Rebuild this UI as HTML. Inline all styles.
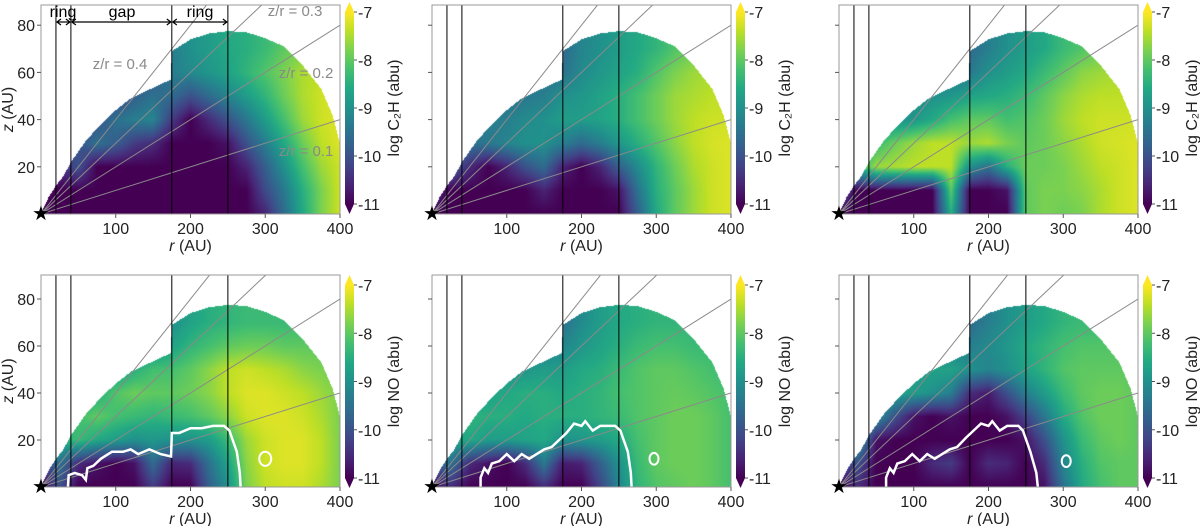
<!DOCTYPE html>
<html><head><meta charset="utf-8">
<style>
body{margin:0;background:#fff;width:1200px;height:526px;overflow:hidden;position:relative;font-family:"Liberation Sans","DejaVu Sans",sans-serif}
canvas{position:absolute}
svg{position:absolute;left:0;top:0}
</style></head>
<body>
<div id="cv"></div>
<svg id="s" width="1200" height="526"></svg>
<script>
// ---- data ----
const rGrid=[0,25,50,75,100,125,150,175,200,225,250,275,300,325,350,375,400];
const zGrid=[0,10,20,30,40,50,60,70,80];
const diskR=[0,10,20,30,40,60,80,100,120,140,160,174,175,200,225,250,275,300,325,350,375,390,400];
const diskZ=[0,7,12,16,22,31,38,44,49,52,55,57,69,74,76.5,77.5,77,74.5,71,63,53,42,30];
const ringLines=[20,40,175,250];
const slopes=[0.1,0.2,0.3,0.4];
const xTicks=[100,200,300,400];
const yTicks=[20,40,60,80];
const cbTicks=[-7,-8,-9,-10,-11];
const panelC2H1=[
[-11,-11,-11,-11,-11,-11,-11,-11,-11,-11,-11,-11,-10.6,-9.6,-8.6,-7.8,-7.3],
[-11,-11,-11,-11,-11,-11,-11,-11,-11,-11,-11,-11,-10.1,-9.4,-8.5,-7.8,-7.3],
[-11,-10.5,-10,-11,-11,-11,-11,-11,-11,-11,-11,-10.6,-9.8,-9,-8.2,-7.6,-7.3],
[-10.5,-10,-10,-9.5,-9.8,-10.3,-10.5,-11,-11,-11,-10.8,-10,-9.3,-8.6,-7.9,-7.4,-7.2],
[-10.5,-10.3,-10.2,-10,-9.5,-9.3,-9.2,-10.3,-11,-10.5,-10,-9.4,-8.8,-8.2,-7.6,-7.3,-7.2],
[-10.5,-10.4,-10.3,-10.2,-10.2,-9.8,-9.5,-9.6,-10,-9.6,-9.2,-8.8,-8.4,-7.9,-7.5,-7.3,-7.2],
[-10,-10,-10,-10,-10,-10,-10,-9.3,-9.1,-8.9,-8.7,-8.4,-8.1,-7.8,-7.5,-7.4,-7.3],
[-9.3,-9.3,-9.3,-9.3,-9.3,-9.3,-9.3,-9.3,-9,-8.8,-8.6,-8.5,-8.3,-8,-7.8,-7.6,-7.5],
[-9.3,-9.3,-9.3,-9.3,-9.3,-9.3,-9.3,-9.3,-9,-8.8,-8.6,-8.5,-8.3,-8,-7.8,-7.6,-7.5]];
const panelC2H2=[
[-11,-11,-11,-11,-11,-11,-11,-11,-11,-11,-11,-9.8,-8.6,-8,-7.6,-7.3,-7.2],
[-10.5,-11,-11,-11,-11,-11,-10.6,-11,-11,-11,-10.8,-9.5,-8.5,-8,-7.6,-7.3,-7.2],
[-10,-9.8,-10.5,-11,-10.6,-10,-9.6,-10.6,-11,-10.6,-9.8,-9.1,-8.4,-7.9,-7.5,-7.3,-7.2],
[-9.6,-9.6,-9.5,-9.4,-9.2,-9,-9,-9.3,-9.6,-9.3,-8.9,-8.5,-8.1,-7.7,-7.4,-7.25,-7.2],
[-9.5,-9.5,-9.4,-9.3,-9.3,-9.1,-9,-8.8,-8.8,-8.7,-8.5,-8.2,-7.9,-7.6,-7.4,-7.3,-7.3],
[-9.5,-9.5,-9.5,-9.5,-9.5,-9.4,-9.3,-9,-8.9,-8.7,-8.5,-8.2,-7.9,-7.6,-7.5,-7.4,-7.4],
[-9.5,-9.5,-9.5,-9.5,-9.5,-9.5,-9.5,-9.5,-9.1,-8.9,-8.7,-8.5,-8.1,-7.8,-7.6,-7.5,-7.5],
[-9.6,-9.6,-9.6,-9.6,-9.6,-9.6,-9.6,-9.6,-9.2,-9,-8.8,-8.6,-8.4,-8.1,-7.9,-7.8,-7.8],
[-9.6,-9.6,-9.6,-9.6,-9.6,-9.6,-9.6,-9.6,-9.2,-9,-8.8,-8.6,-8.4,-8.1,-7.9,-7.8,-7.8]];
const panelC2H3=[
[-11,-11,-11,-11,-11,-11,-8.5,-11,-11,-11,-8,-7.8,-7.9,-7.8,-7.5,-7.3,-7.2],
[-10,-11,-11,-11,-11,-11,-8,-11,-11,-10.8,-8,-7.8,-7.8,-7.7,-7.5,-7.3,-7.2],
[-8.5,-8.5,-7.6,-7.5,-7.4,-7.4,-7.4,-9,-9.5,-8.5,-7.9,-7.9,-7.8,-7.6,-7.4,-7.3,-7.2],
[-9,-8.8,-8.3,-7.9,-7.6,-7.4,-7.4,-7.6,-7.5,-7.8,-8,-7.9,-7.7,-7.5,-7.3,-7.25,-7.2],
[-9.2,-9.1,-9,-9,-8.9,-8.6,-8.2,-8,-8,-8.2,-8.1,-7.9,-7.6,-7.4,-7.3,-7.3,-7.3],
[-9.3,-9.3,-9.2,-9.1,-9.1,-9,-8.9,-8.7,-8.6,-8.5,-8.3,-8,-7.7,-7.5,-7.4,-7.4,-7.4],
[-9.4,-9.4,-9.4,-9.4,-9.4,-9.4,-9.4,-9.4,-9,-8.8,-8.6,-8.3,-8,-7.7,-7.6,-7.5,-7.5],
[-9.6,-9.6,-9.6,-9.6,-9.6,-9.6,-9.6,-9.6,-9.3,-9,-8.8,-8.6,-8.3,-8.1,-7.9,-7.8,-7.8],
[-9.6,-9.6,-9.6,-9.6,-9.6,-9.6,-9.6,-9.6,-9.3,-9,-8.8,-8.6,-8.3,-8.1,-7.9,-7.8,-7.8]];
const panelNO1=[
[-11,-10,-11,-11,-11,-11,-10.3,-11,-11,-9.8,-9,-7.8,-7.4,-7.3,-7.3,-7.5,-7.8],
[-10.5,-9.5,-10.5,-10.8,-11,-10.8,-9.6,-10.6,-10.5,-9.5,-8.7,-7.7,-7.3,-7.2,-7.2,-7.4,-7.8],
[-9,-8.5,-8.3,-8.6,-8.8,-9,-8.9,-9,-9,-8.8,-8.3,-7.6,-7.3,-7.2,-7.2,-7.4,-7.8],
[-8.8,-8.5,-8.2,-8,-8.2,-8.3,-8.4,-8.3,-8.2,-8,-7.7,-7.3,-7.2,-7.2,-7.3,-7.5,-7.8],
[-9,-8.9,-8.8,-8.5,-8.1,-7.9,-8,-8,-7.9,-7.7,-7.4,-7.2,-7.2,-7.3,-7.4,-7.6,-7.8],
[-9.2,-9.1,-9,-9,-8.8,-8.5,-8.2,-8.2,-8,-7.7,-7.4,-7.3,-7.4,-7.5,-7.7,-7.8,-7.9],
[-9.5,-9.5,-9.5,-9.5,-9.5,-9.2,-9,-8.7,-8.4,-8.2,-8,-7.9,-7.9,-8,-8,-8,-8],
[-9,-9,-9,-9,-9,-9,-9,-9,-8.7,-8.5,-8.4,-8.3,-8.3,-8.3,-8.3,-8.3,-8.3],
[-9,-9,-9,-9,-9,-9,-9,-9,-8.7,-8.5,-8.4,-8.3,-8.3,-8.3,-8.3,-8.3,-8.3]];
const panelNO2=[
[-11,-10.5,-11,-11,-11,-11,-10.5,-11,-11,-10.2,-9.2,-8.4,-8.1,-8,-7.9,-8,-8.2],
[-10,-9.5,-10.5,-10.8,-11,-10.5,-9.4,-10.7,-10.6,-9.8,-9,-8.3,-8,-7.9,-7.9,-8,-8.2],
[-9,-8.7,-8.6,-8.8,-8.8,-8.7,-8.6,-9,-8.9,-8.8,-8.6,-8.2,-8,-7.9,-7.9,-8,-8.2],
[-9,-8.7,-8.4,-8.5,-8.5,-8.6,-8.5,-8.5,-8.5,-8.4,-8.3,-8.1,-8,-7.9,-7.9,-8,-8.2],
[-9.2,-9.1,-9,-8.7,-8.6,-8.5,-8.5,-8.6,-8.5,-8.4,-8.2,-8.1,-8,-7.95,-8,-8.1,-8.2],
[-9.3,-9.3,-9.2,-9.2,-9,-8.9,-8.8,-8.8,-8.6,-8.5,-8.3,-8.1,-8,-8,-8.1,-8.2,-8.3],
[-9.3,-9.3,-9.3,-9.3,-9.3,-9.3,-9.3,-9.2,-8.9,-8.7,-8.5,-8.3,-8.2,-8.2,-8.3,-8.3,-8.3],
[-9.5,-9.5,-9.5,-9.5,-9.5,-9.5,-9.5,-9.5,-9.1,-8.8,-8.6,-8.5,-8.4,-8.4,-8.4,-8.4,-8.4],
[-9.5,-9.5,-9.5,-9.5,-9.5,-9.5,-9.5,-9.5,-9.1,-8.8,-8.6,-8.5,-8.4,-8.4,-8.4,-8.4,-8.4]];
const panelNO3=[
[-11,-10.5,-11,-11,-11,-11,-11,-11,-11,-11,-11,-10.8,-9.5,-8.6,-8.2,-8,-8],
[-10.5,-10,-11,-11,-11,-10.5,-10.3,-11,-10.5,-10.6,-11,-10.5,-9.2,-8.5,-8.1,-8,-8],
[-9.5,-8.8,-10.8,-11,-11,-11,-11,-11,-11,-11,-10.8,-10,-9,-8.3,-8,-7.9,-8],
[-9,-8.6,-9,-10,-10.8,-11,-10.8,-11,-11,-10.8,-10.2,-9.4,-8.6,-8.1,-7.9,-7.9,-8],
[-9,-8.9,-8.8,-8.7,-8.8,-9,-9.3,-10.5,-10.7,-10,-9.3,-8.8,-8.3,-8,-7.9,-7.9,-8],
[-9.2,-9.2,-9.1,-9,-8.8,-8.7,-8.7,-9,-9.2,-9,-8.7,-8.4,-8.1,-8,-8,-8,-8.1],
[-9.3,-9.3,-9.3,-9.3,-9.3,-9.3,-9.3,-9.3,-9.1,-8.9,-8.6,-8.4,-8.2,-8.1,-8.1,-8.1,-8.1],
[-9.6,-9.6,-9.6,-9.6,-9.6,-9.6,-9.6,-9.6,-9.3,-9,-8.8,-8.6,-8.4,-8.3,-8.3,-8.3,-8.3],
[-9.6,-9.6,-9.6,-9.6,-9.6,-9.6,-9.6,-9.6,-9.3,-9,-8.8,-8.6,-8.4,-8.3,-8.3,-8.3,-8.3]];
const contourNO1=[[36,0],[37,5],[45,6],[55,5],[60,3],[62,8],[70,9],[80,12],[95,15],[110,15],[120,16],[130,14],[145,16],[160,14],[174,13],[175,23],[185,23],[200,25],[215,25],[230,26],[245,26],[252,24],[262,15],[266,6],[267,0]];
const contourNO2=[[65,0],[65,4],[70,8],[75,6],[80,10],[90,11],[100,14],[110,11],[120,14],[130,12],[140,14],[150,16],[160,17],[170,20],[180,23],[190,27],[200,26],[205,28],[215,24],[225,26],[245,26],[252,24],[262,15],[266,6],[267,0]];
const contourNO3=[[63,0],[63,4],[68,8],[73,6],[78,10],[88,11],[98,14],[108,11],[118,14],[128,12],[138,14],[148,16],[158,17],[170,21],[180,24],[190,27],[200,26],[205,28],[215,24],[225,26],[240,26],[246,24],[256,15],[264,6],[266,0]];
const blobNO1=[300,12,8,3]; const blobNO2=[297,12,6,2.5]; const blobNO3=[304,11,6,2.5];

const viridis=['#440154','#482475','#414487','#355f8d','#2a788e','#21918c','#22a884','#44bf70','#7ad151','#bddf26','#fde725'];
const vr=viridis.map(h=>[parseInt(h.slice(1,3),16),parseInt(h.slice(3,5),16),parseInt(h.slice(5,7),16)]);
function cmap(v){let t=(v+11)/4;t=Math.max(0,Math.min(1,t))*10;const i=Math.min(9,Math.floor(t)),f=t-i;return vr[i].map((c,k)=>Math.round(c+(vr[i+1][k]-c)*f));}
function interp1(xs,ys,x){if(x<=xs[0])return ys[0];for(let i=1;i<xs.length;i++){if(x<=xs[i]){const f=(x-xs[i-1])/(xs[i]-xs[i-1]);return ys[i-1]+f*(ys[i]-ys[i-1]);}}return ys[ys.length-1];}
function sample(g,r,z){const ci=Math.min(15,Math.floor(r/25)),fr=Math.min(1,(r-rGrid[ci])/25);const ri=Math.min(7,Math.floor(z/10)),fz=Math.min(1,(z-zGrid[ri])/10);
const a=g[ri][ci]*(1-fr)+g[ri][ci+1]*fr,b=g[ri+1][ci]*(1-fr)+g[ri+1][ci+1]*fr;return a*(1-fz)+b*fz;}

const NS='http://www.w3.org/2000/svg';const S=document.getElementById('s');
function el(t,at,par){const e=document.createElementNS(NS,t);for(const k in at)e.setAttribute(k,at[k]);(par||S).appendChild(e);return e;}

const lefts=[41,432,839];
const rows=[{bot:214,top:5,sc:2.36,cbTop:12,cbBot:204,lbl:'C₂H'},{bot:487,top:275,sc:2.35,cbTop:285,cbBot:478,lbl:'NO'}];
const grids=[[panelC2H1,panelC2H2,panelC2H3],[panelNO1,panelNO2,panelNO3]];
const contours=[contourNO1,contourNO2,contourNO3];const blobs=[blobNO1,blobNO2,blobNO3];
const W=299,XS=W/400,FS=16;
const defs=el('defs',{});
rows.forEach((row,ri)=>{lefts.forEach((L,pi)=>{
 const H=row.bot-row.top;const sx=r=>L+r*XS, sy=z=>row.bot-z*row.sc;
 const c=document.createElement('canvas');c.width=W;c.height=H;c.style.left=L+'px';c.style.top=row.top+'px';
 
 
 document.getElementById('cv').appendChild(c);
 const ctx=c.getContext('2d');const im=ctx.createImageData(W,H);const g=grids[ri][pi];
 for(let py=0;py<H;py++)for(let px=0;px<W;px++){const r=(px+0.5)/XS,z=(H-py-0.5)/row.sc;const zt=interp1(diskR,diskZ,r);if(r>400||z>zt)continue;
  const col=cmap(sample(g,r,z));const o=(py*W+px)*4;im.data[o]=col[0];im.data[o+1]=col[1];im.data[o+2]=col[2];im.data[o+3]=255;}
 ctx.putImageData(im,0,0);
 const cid='clip'+ri+pi;const cp=el('clipPath',{id:cid},defs);el('rect',{x:L,y:row.top,width:W,height:H},cp);
 const gg=el('g',{'clip-path':'url(#'+cid+')'});
 slopes.forEach(k=>{const ln=el('line',{x1:sx(0),y1:sy(0),x2:sx(400),y2:sy(400*k),stroke:'#8a8a8a','stroke-width':1},gg);});
 ringLines.forEach(r=>{const ln=el('line',{x1:sx(r),y1:row.top,x2:sx(r),y2:row.bot,stroke:'#000','stroke-width':1},gg);});
 if(ri==1){const pl=el('polyline',{points:contours[pi].map(p=>sx(p[0])+','+sy(p[1])).join(' '),fill:'none',stroke:'#fff','stroke-width':2.5},gg);
  const b=blobs[pi];const bl=el('ellipse',{cx:sx(b[0]),cy:sy(b[1]),rx:b[2]*XS,ry:b[3]*row.sc,fill:'none',stroke:'#fff','stroke-width':2},gg);}
 const fr=el('rect',{x:L,y:row.top,width:W,height:H,fill:'none',stroke:'#999','stroke-width':1});
 const st=el('text',{x:L,y:row.bot+6,'font-size':20,'text-anchor':'middle',fill:'#000'});st.textContent='★';
 xTicks.forEach(t=>{el('line',{x1:sx(t),y1:row.bot,x2:sx(t),y2:row.bot+4,stroke:'#555'});const tx=el('text',{x:sx(t),y:row.bot+20,'font-size':FS,'text-anchor':'middle',fill:'#222'});tx.textContent=t;});
 yTicks.forEach(t=>{el('line',{x1:L-4,y1:sy(t),x2:L,y2:sy(t),stroke:'#555'});if(pi==0){const tx=el('text',{x:L-6,y:sy(t)+6,'font-size':FS,'text-anchor':'end',fill:'#222'});tx.textContent=t;}});
 const xl=el('text',{x:L+W/2,y:row.bot+37,'font-size':FS,'text-anchor':'middle',fill:'#222'});xl.innerHTML='<tspan font-style="italic">r</tspan> (AU)';
 if(pi==0){const yl=el('text',{transform:`translate(${L-28},${(row.top+row.bot)/2}) rotate(-90)`,'font-size':FS,'text-anchor':'middle',fill:'#222'});yl.innerHTML='<tspan font-style="italic">z</tspan> (AU)';}
 const cx=L+304,cw=9;const gid='grad'+ri+pi;const lg=el('linearGradient',{id:gid,x1:0,y1:1,x2:0,y2:0},defs);
 viridis.forEach((h,i)=>el('stop',{offset:i/10,'stop-color':h},lg));
 const cb=el('rect',{x:cx,y:row.cbTop,width:cw,height:row.cbBot-row.cbTop,fill:'url(#'+gid+')'});
 el('polygon',{points:`${cx},${row.cbTop} ${cx+cw},${row.cbTop} ${cx+cw/2},${row.cbTop-10}`,fill:viridis[10]});
 el('polygon',{points:`${cx},${row.cbBot} ${cx+cw},${row.cbBot} ${cx+cw/2},${row.cbBot+10}`,fill:viridis[0]});
 cbTicks.forEach(t=>{const y=row.cbTop+(-7-t)/4*(row.cbBot-row.cbTop);el('line',{x1:cx+cw,y1:y,x2:cx+cw+3,y2:y,stroke:'#555'});const tx=el('text',{x:cx+cw+4,y:y+6,'font-size':FS,fill:'#222'});tx.textContent=t;});
 const cl=el('text',{transform:`translate(${cx+54},${(row.cbTop+row.cbBot)/2}) rotate(-90)`,'font-size':FS,'text-anchor':'middle',fill:'#222'});cl.textContent='log '+row.lbl+' (abu)';
 if(ri==0&&pi==0){
  const a=el('g',{});
  const ay=22;
  [[20,40],[40,175],[175,250]].forEach(p=>{el('line',{x1:sx(p[0])+1,y1:ay,x2:sx(p[1])-1,y2:ay,stroke:'#000','stroke-width':1.2},a);
   el('polyline',{points:`${sx(p[0])+5},${ay-3} ${sx(p[0])+1},${ay} ${sx(p[0])+5},${ay+3}`,fill:'none',stroke:'#000','stroke-width':1.2},a);
   el('polyline',{points:`${sx(p[1])-5},${ay-3} ${sx(p[1])-1},${ay} ${sx(p[1])-5},${ay+3}`,fill:'none',stroke:'#000','stroke-width':1.2},a);});
  [['ring',63,17],['gap',122,17],['ring',200,17]].forEach(t=>{const tx=el('text',{x:t[1],y:t[2],'font-size':FS,'text-anchor':'middle',fill:'#000'},a);tx.textContent=t[0];});
  [['z/r = 0.4',120,69],['z/r = 0.3',295,16],['z/r = 0.2',306,78],['z/r = 0.1',306,156]].forEach(t=>{const tx=el('text',{x:t[1],y:t[2],'font-size':15,'text-anchor':'middle',fill:'#8a8a8a'});tx.textContent=t[0];});
 }
});});
</script>
</body></html>
